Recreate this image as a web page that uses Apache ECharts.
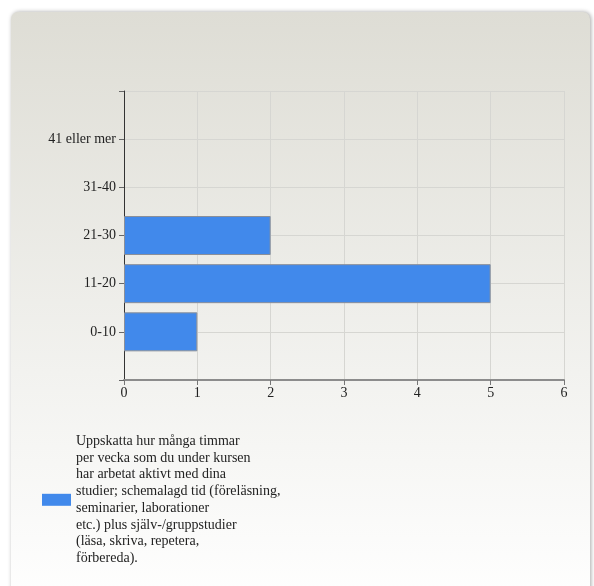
<!DOCTYPE html>
<html>
<head>
<meta charset="utf-8">
<script src="https://cdn.jsdelivr.net/npm/echarts@6/dist/echarts.min.js"></script>
<style>
html,body{margin:0;padding:0;background:#fff;}
#chart{width:594px;height:586px;}
</style>
</head>
<body>
<div id="chart"></div>
<script>
// Data
const categories = ['', '0-10', '11-20', '21-30', '31-40', '41 eller mer', ''];
const values = ['-', 1, 5, 2, 0, 0, '-'];
const xMin = 0, xMax = 6, xStep = 1;
const seriesName = 'Uppskatta hur många timmar\nper vecka som du under kursen\nhar arbetat aktivt med dina\nstudier; schemalagd tid (föreläsning,\nseminarier, laborationer\netc.) plus själv-/gruppstudier\n(läsa, skriva, repetera,\nförbereda).';

const FONT = '"Liberation Serif", "DejaVu Serif", serif';
const barData = values.map(v => v === 0 ? {value: 0, itemStyle: {borderWidth: 0}} : v);
const chart = echarts.init(document.getElementById('chart'), null, {renderer: 'canvas'});
chart.setOption({
  animation: false,
  graphic: [{
    type: 'rect',
    z: -10,
    silent: true,
    shape: {x: 11, y: 12, width: 579, height: 600, r: 7},
    style: {
      fill: new echarts.graphic.LinearGradient(0, 0, 0, 1, [
        {offset: 0, color: '#DEDDD5'},
        {offset: 0.6, color: '#F2F2EF'},
        {offset: 1, color: '#FFFFFF'}
      ]),
      shadowBlur: 4,
      shadowOffsetX: 1,
      shadowOffsetY: 0,
      shadowColor: 'rgba(0,0,0,0.35)'
    }
  }],
  grid: {left: 124, right: 30, top: 91, bottom: 206, containLabel: false},
  xAxis: {
    type: 'value',
    min: xMin, max: xMax, interval: xStep,
    axisLine: {show: true, lineStyle: {color: '#8c8c8c', width: 2}},
    axisTick: {show: true, length: 5, lineStyle: {color: '#777'}},
    axisLabel: {color: '#222', fontFamily: FONT, fontSize: 14, margin: 6},
    splitLine: {show: true, lineStyle: {color: '#d6d6d2', width: 1}}
  },
  yAxis: {
    type: 'category',
    data: categories,
    boundaryGap: false,
    axisLine: {show: true, lineStyle: {color: '#333', width: 1}},
    axisTick: {show: true, length: 5, interval: 0, lineStyle: {color: '#666'}},
    axisLabel: {color: '#222', fontFamily: FONT, fontSize: 14, margin: 8, interval: 0},
    splitLine: {show: true, interval: 0, lineStyle: {color: '#d6d6d2', width: 1}}
  },
  legend: {
    show: true,
    left: 42,
    top: 433,
    padding: 0,
    orient: 'vertical',
    itemWidth: 29,
    itemHeight: 12,
    itemStyle: {borderWidth: 0},
    textStyle: {color: '#222', fontFamily: FONT, fontSize: 14, lineHeight: 16.7},
    data: [{name: seriesName, icon: 'rect'}]
  },
  series: [{
    type: 'bar',
    name: seriesName,
    data: barData,
    barWidth: 39,
    itemStyle: {color: '#4189EB', borderColor: '#8a8f99', borderWidth: 1}
  }]
});
</script>
</body>
</html>
